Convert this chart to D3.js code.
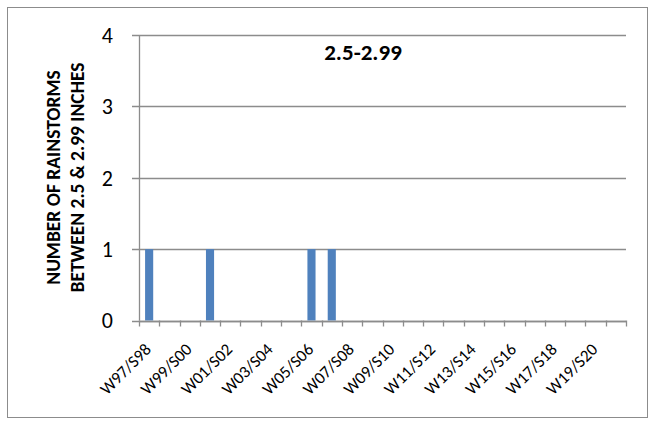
<!DOCTYPE html>
<html>
<head>
<meta charset="utf-8">
<script src="https://cdn.jsdelivr.net/npm/d3@7"></script>
<style>
  html, body { margin: 0; padding: 0; background: #fff; }
  svg { display: block; }
</style>
</head>
<body>
<svg id="chart" width="655" height="425"></svg>
<script>
// Winter/summer seasons, one per category
const seasons = [
  "W97/S98", "W98/S99", "W99/S00", "W00/S01", "W01/S02", "W02/S03",
  "W03/S04", "W04/S05", "W05/S06", "W06/S07", "W07/S08", "W08/S09",
  "W09/S10", "W10/S11", "W11/S12", "W12/S13", "W13/S14", "W14/S15",
  "W15/S16", "W16/S17", "W17/S18", "W18/S19", "W19/S20", "W20/S21"
];
// Number of rainstorms between 2.5 and 2.99 inches per season
const stormCounts = [1, 0, 0, 1, 0, 0, 0, 0, 1, 1, 0, 0, 0, 0, 0, 0, 0, 0, 0, 0, 0, 0, 0, 0];
const yTicks = [0, 1, 2, 3, 4];
const chartTitle = "2.5-2.99";
const axisTitle = ["NUMBER OF RAINSTORMS", "BETWEEN 2.5 & 2.99 INCHES"];

const font = "Carlito, Lato, 'Liberation Sans', sans-serif";
const svg = d3.select("#chart");
const W = 655, H = 425;
const m = { left: 139, right: 29, top: 35, bottom: 104.5 };

// outer frame
svg.append("rect")
  .attr("x", 7.5).attr("y", 7.5)
  .attr("width", W - 15).attr("height", H - 15)
  .attr("fill", "#fff").attr("stroke", "#8c8c8c").attr("stroke-width", 1);

const x = d3.scaleBand().domain(seasons).range([m.left, W - m.right]).paddingInner(0).paddingOuter(0);
const y = d3.scaleLinear().domain([0, 4]).range([H - m.bottom, m.top]);

// horizontal gridlines with short tick stubs on the left
svg.append("g")
  .selectAll("line").data(yTicks).join("line")
  .attr("x1", m.left - 7).attr("x2", W - m.right)
  .attr("y1", d => Math.round(y(d)) + 0.5).attr("y2", d => Math.round(y(d)) + 0.5)
  .attr("stroke", "#8c8c8c").attr("stroke-width", 1.3);

// bars
const barW = x.bandwidth() * 0.4;
svg.append("g")
  .selectAll("rect").data(seasons.map((s, i) => ({ s, v: stormCounts[i] })).filter(d => d.v > 0)).join("rect")
  .attr("x", d => x(d.s) + (x.bandwidth() - barW) / 2)
  .attr("width", barW)
  .attr("y", d => y(d.v))
  .attr("height", d => y(0) - y(d.v))
  .attr("fill", "#4f81bd");

// y axis line
svg.append("line")
  .attr("x1", m.left + 0.5).attr("x2", m.left + 0.5)
  .attr("y1", y(4)).attr("y2", y(0))
  .attr("stroke", "#8c8c8c").attr("stroke-width", 1.3);

// x axis with tick marks at category boundaries
const bounds = seasons.map(s => x(s)).concat([x(seasons[seasons.length - 1]) + x.bandwidth()]);
svg.append("line")
  .attr("x1", m.left).attr("x2", W - m.right)
  .attr("y1", Math.round(y(0)) + 0.5).attr("y2", Math.round(y(0)) + 0.5)
  .attr("stroke", "#8c8c8c").attr("stroke-width", 1.3);
svg.append("g")
  .selectAll("line").data(bounds).join("line")
  .attr("x1", d => Math.round(d) + 0.5).attr("x2", d => Math.round(d) + 0.5)
  .attr("y1", y(0)).attr("y2", y(0) + 6)
  .attr("stroke", "#8c8c8c").attr("stroke-width", 1.3);

// y tick labels
svg.append("g")
  .selectAll("text").data(yTicks).join("text")
  .attr("x", 113).attr("y", d => y(d))
  .attr("dy", "0.36em")
  .attr("text-anchor", "end")
  .attr("font-family", font).attr("font-size", 22)
  .attr("fill", "#000")
  .text(d => d);

// x tick labels, every other season
svg.append("g")
  .selectAll("text").data(seasons.filter((s, i) => i % 2 === 0)).join("text")
  .attr("transform", s => `translate(${x(s) + x.bandwidth() / 2 + 3},${y(0) + 30}) rotate(-45)`)
  .attr("text-anchor", "end")
  .attr("font-family", font).attr("font-size", 17)
  .attr("fill", "#000")
  .text(s => s);

// chart title
svg.append("text")
  .attr("x", 363).attr("y", 60)
  .attr("text-anchor", "middle")
  .attr("font-family", font).attr("font-size", 23).attr("font-weight", "bold")
  .attr("fill", "#000")
  .text(chartTitle);

// y axis title
const yt = svg.append("text")
  .attr("transform", `translate(60,177.5) rotate(-90)`)
  .attr("text-anchor", "middle")
  .attr("font-family", font).attr("font-size", 19.5).attr("font-weight", "bold")
  .attr("fill", "#000");
axisTitle.forEach((t, i) => {
  yt.append("tspan").attr("x", 0).attr("dy", i === 0 ? 0 : 24).text(t);
});
</script>
</body>
</html>
